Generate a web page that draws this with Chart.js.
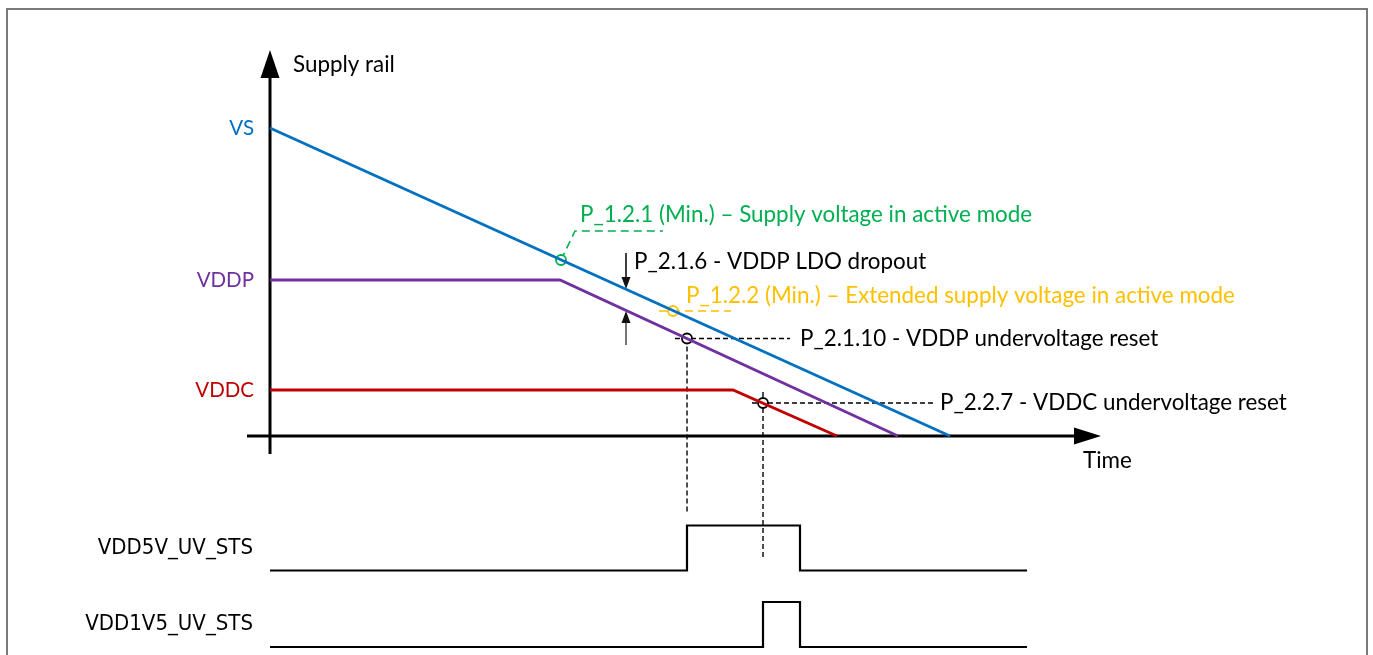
<!DOCTYPE html>
<html>
<head>
<meta charset="utf-8">
<script src="https://cdn.jsdelivr.net/npm/chart.js@4.4.1/dist/chart.umd.min.js"></script>
<style>
  html, body { margin: 0; padding: 0; background: #fff; }
  #wrap { position: relative; width: 1373px; height: 655px; }
</style>
</head>
<body>
<div id="wrap"><canvas id="myChart"></canvas></div>
<script>
// supply rails: time and level in arbitrary units
let vsTime = [0, 68];
let vsLevel = [30.8, 0];
let vddpTime = [0, 29, 62.8];
let vddpLevel = [15.6, 15.6, 0];
let vddcTime = [0, 46.3, 56.7];
let vddcLevel = [4.6, 4.6, 0];
let railLabels = ['VS', 'VDDP', 'VDDC'];
let railColors = ['#0070C0', '#7030A0', '#C00000'];

// status flags, 0 = low, 1 = high
let sts5vTime = [0, 41.7, 53, 75.7];
let sts5vState = [0, 1, 0, 0];
let sts1v5Time = [0, 49.3, 53, 75.7];
let sts1v5State = [0, 1, 0, 0];
let rowLabels = ['VDD5V_UV_STS', 'VDD1V5_UV_STS'];
let rowBase = [1.7, 0];

// thresholds: [time, level]
let vsMin = [29.1, 17.6];
let vsExtMin = [40.3, 12.5];
let vddpReset = [41.7, 9.75];
let vddcReset = [49.3, 3.3];
let dropout = [35.6, 14.7, 12.5]; // time, VS level, VDDP level

let FONT = '22.4px Lato, "Open Sans", sans-serif';
let FONT_RAIL = '20.5px Lato, "Open Sans", sans-serif';
let FONT_ROW = '22px "Liberation Sans Narrow", "DejaVu Sans Condensed", sans-serif';

function pts(t, v, base) {
    return t.map((x, i) => ({ x: x, y: v[i] + (base || 0) }));
}

function marker(p, color) {
    return {
        data: [{ x: p[0], y: p[1] }],
        showLine: false,
        pointRadius: 5,
        pointBorderWidth: 1.8,
        pointBackgroundColor: '#fff',
        pointBorderColor: color
    };
}

function line(ctx, x1, y1, x2, y2) {
    ctx.beginPath();
    ctx.moveTo(x1, y1);
    ctx.lineTo(x2, y2);
    ctx.stroke();
}

function tri(ctx, a, b, c) {
    ctx.beginPath();
    ctx.moveTo(a[0], a[1]);
    ctx.lineTo(b[0], b[1]);
    ctx.lineTo(c[0], c[1]);
    ctx.closePath();
    ctx.fill();
}

function text(ctx, s, x, y, color, align, font) {
    ctx.font = font || FONT;
    ctx.fillStyle = color;
    ctx.textAlign = align || 'left';
    ctx.textBaseline = 'middle';
    ctx.fillText(s, x, y);
}

let diagram = {
    id: 'diagram',
    beforeDatasetsDraw(chart) {
        let ctx = chart.ctx;
        let X = v => chart.scales.x.getPixelForValue(v);
        let Y = v => chart.scales.y.getPixelForValue(v);
        let D = v => chart.scales.yd.getPixelForValue(v);
        ctx.save();

        // frame
        ctx.strokeStyle = '#7a7a7a';
        ctx.lineWidth = 2;
        ctx.strokeRect(7, 9, 1360, 700);

        // axes with arrow heads
        ctx.strokeStyle = '#000';
        ctx.fillStyle = '#000';
        ctx.lineWidth = 3;
        line(ctx, X(0), Y(-1.8), X(0), Y(36));
        tri(ctx, [X(0), Y(38.6)], [X(0) - 9.5, Y(35.8)], [X(0) + 9.5, Y(35.8)]);
        line(ctx, X(-2.3), Y(0), X(80.6), Y(0));
        tri(ctx, [X(83.1), Y(0)], [X(80.4), Y(0) - 8.5], [X(80.4), Y(0) + 8.5]);

        // black dashed reset guides
        ctx.lineWidth = 1.4;
        ctx.setLineDash([5, 3]);
        line(ctx, X(vddpReset[0] - 1.2), Y(vddpReset[1]), X(52), Y(vddpReset[1]));
        line(ctx, X(vddpReset[0]), Y(vddpReset[1]), X(vddpReset[0]), D(rowBase[0] + 1.25));
        line(ctx, X(vddcReset[0] - 1.1), Y(vddcReset[1]), X(66.3), Y(vddcReset[1]));
        line(ctx, X(vddcReset[0]), Y(vddcReset[1] + 1.1), X(vddcReset[0]), D(rowBase[0] + 0.3));

        // green leader
        ctx.strokeStyle = '#00B050';
        ctx.lineWidth = 1.6;
        ctx.setLineDash([8, 5]);
        ctx.beginPath();
        ctx.moveTo(X(vsMin[0]), Y(vsMin[1]));
        ctx.lineTo(X(30.5), Y(20.5));
        ctx.lineTo(X(39.3), Y(20.5));
        ctx.stroke();

        // yellow leader
        ctx.strokeStyle = '#FFC000';
        line(ctx, X(vsExtMin[0] - 1.4), Y(vsExtMin[1]), X(vsExtMin[0] + 5.8), Y(vsExtMin[1]));
        ctx.setLineDash([]);

        // dropout arrows
        let ax = X(dropout[0]);
        ctx.strokeStyle = '#111';
        ctx.fillStyle = '#111';
        ctx.lineWidth = 1.6;
        let top = Y(dropout[1]), bot = Y(dropout[2]);
        line(ctx, ax, Y(18.3), ax, top - 10);
        tri(ctx, [ax, top], [ax - 4.5, top - 12], [ax + 4.5, top - 12]);
        ctx.strokeStyle = '#555';
        line(ctx, ax, bot + 10, ax, Y(9.1));
        tri(ctx, [ax, bot], [ax - 4.5, bot + 12], [ax + 4.5, bot + 12]);

        ctx.restore();
    },
    afterDatasetsDraw(chart) {
        let ctx = chart.ctx;
        let X = v => chart.scales.x.getPixelForValue(v);
        let Y = v => chart.scales.y.getPixelForValue(v);
        let D = v => chart.scales.yd.getPixelForValue(v);
        ctx.save();

        text(ctx, 'Supply rail', X(2.3), Y(37.1), '#000');
        text(ctx, 'Time', X(81.3), Y(-2.5), '#000');
        let starts = [vsLevel[0], vddpLevel[0], vddcLevel[0]];
        railLabels.forEach((s, i) => text(ctx, s, X(-1.6), Y(starts[i]), railColors[i], 'right', FONT_RAIL));

        text(ctx, 'P_1.2.1 (Min.) \u2013 Supply voltage in active mode', X(31), Y(22.1), '#00B050');
        text(ctx, 'P_2.1.6 - VDDP LDO dropout', X(36.4), Y(17.4), '#000');
        text(ctx, 'P_1.2.2 (Min.) \u2013 Extended supply voltage in active mode', X(41.6), Y(14.0), '#FFC000');
        text(ctx, 'P_2.1.10 - VDDP undervoltage reset', X(53), Y(vddpReset[1]), '#000');
        text(ctx, 'P_2.2.7 - VDDC undervoltage reset', X(67), Y(vddcReset[1]), '#000');

        rowLabels.forEach((s, i) => text(ctx, s, X(-1.7), D(rowBase[i] + 0.5), '#000', 'right', FONT_ROW));
        ctx.restore();
    }
};

let ctx = document.getElementById('myChart').getContext('2d');
let myChart = new Chart(ctx, {
    type: 'line',
    data: {
        datasets: [
            { data: pts(vsTime, vsLevel), borderColor: railColors[0], borderWidth: 2.8, pointRadius: 0 },
            { data: pts(vddpTime, vddpLevel), borderColor: railColors[1], borderWidth: 2.8, pointRadius: 0 },
            { data: pts(vddcTime, vddcLevel), borderColor: railColors[2], borderWidth: 2.8, pointRadius: 0 },
            { data: pts(sts5vTime, sts5vState, rowBase[0]), yAxisID: 'yd', stepped: 'before', borderColor: '#000', borderWidth: 2.2, pointRadius: 0 },
            { data: pts(sts1v5Time, sts1v5State, rowBase[1]), yAxisID: 'yd', stepped: 'before', borderColor: '#000', borderWidth: 2.2, pointRadius: 0 },
            marker(vsMin, '#00B050'),
            marker(vsExtMin, '#FFC000'),
            marker(vddpReset, '#000'),
            marker(vddcReset, '#000')
        ]
    },
    options: {
        responsive: true,
        maintainAspectRatio: false,
        animation: false,
        layout: { padding: 0, autoPadding: false },
        plugins: { legend: { display: false }, tooltip: { enabled: false } },
        scales: {
            x: { type: 'linear', display: false, min: -27, max: 110.3 },
            y: { display: false, min: -21.9, max: 43.6 },
            yd: { display: false, min: -0.178, max: 14.378 }
        }
    },
    plugins: [diagram]
});
</script>
</body>
</html>
